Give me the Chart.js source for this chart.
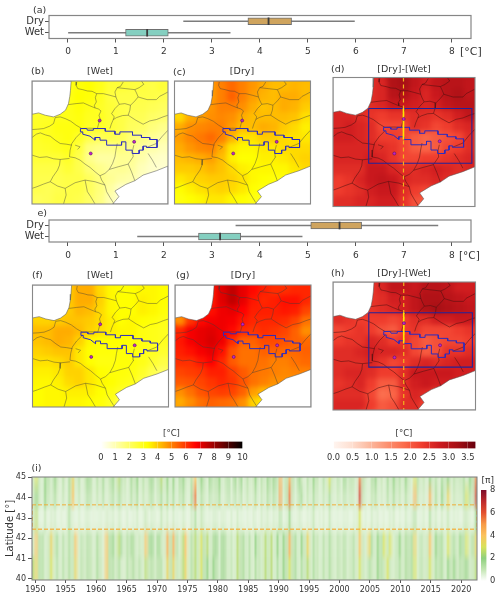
<!DOCTYPE html>
<html><head><meta charset="utf-8">
<script src="https://cdn.jsdelivr.net/npm/chart.js@4"></script>
<style>
html,body{margin:0;padding:0;background:#fff}
#page{position:relative;width:500px;height:599px;overflow:hidden;font-family:"DejaVu Sans",sans-serif;color:#333}
canvas{position:absolute;left:0;top:0}
.t{position:absolute;line-height:1;white-space:nowrap}
</style></head><body><div id="page"></div>
<script>
// ---------- box plots ----------
const boxCategories=['Dry','Wet'];
const boxTicks=[0,1,2,3,4,5,6,7,8];
const aWhisker=[[2.41,5.97],[0.01,3.38]];
const aBox=[[3.75,4.66],[1.2,2.09]];
const aMedian=[4.18,1.65];
const eWhisker=[[3.5,7.71],[1.45,4.88]];
const eBox=[[5.06,6.12],[2.72,3.6]];
const eMedian=[5.66,3.17];
const boxColors=['#cfa45e','#84cfc0'];

// ---------- map grids (temperature, degC; rows north to south) ----------
const gridB=[
[2.6,2.6,2.8,3,3.2,3.3,3,2.6,2.6,2.5,2.5,2.4,2.6],
[2.6,2.6,2.8,3,3.3,3.2,2.9,2.5,2.4,2.4,2.4,2.4,2.3],
[2.6,2.6,2.8,3,3.2,3,2.8,2.6,2.4,2.3,2.3,2.2,2.1],
[2.8,2.8,3,3,3.1,2.9,2.9,2.6,2.4,2.2,2.2,2,1.9],
[2.8,2.9,3.1,3.1,3.1,2.8,2.8,2.6,2.4,2.1,2,1.7,1.5],
[2.8,2.9,3,3.1,2.8,2.3,2.2,2.3,2.2,1.8,1.6,1.4,1.2],
[2.7,2.8,2.9,3,2.5,1.7,1.5,1.5,1.7,1.5,1.3,1.1,0.9],
[2.6,2.6,2.6,2.8,2.3,1.5,1.2,1.2,1.4,1.4,1.1,0.8,0.7],
[2.4,2.4,2.4,2.6,2.3,1.8,1.5,1.3,1.4,1.3,0.9,0.7,0.6],
[2.3,2.3,2.3,2.4,2.4,2.1,1.7,1.4,1.2,1.1,0.8,0.6,0.6],
[2.3,2.2,2.3,2.4,2.4,2.1,1.7,1.2,0.7,0.6,0.6,0.6,0.6],
[2.1,2.2,2.4,2.4,2.3,2,1.6,1,0.5,0.3,0.4,0.5,0.5]];
const gridC=[
[4.4,4.4,4.5,4.6,5,5.3,5,4.7,4.4,4.2,4.2,4.3,4.2],
[4.4,4.4,4.5,4.6,5,5.4,5,4.6,4.3,4.2,4.4,4.4,4.2],
[4.2,4.3,4.5,4.7,5,5,4.8,4.4,4.1,4.2,4.4,4.3,4],
[3.8,4.4,4.6,4.8,4.9,4.8,4.4,4.2,4.2,4.2,4.2,4.1,3.7],
[4.4,4.8,4.9,5,5,4.6,4.2,4.2,4.4,4.3,4,3.8,3.5],
[4.6,4.9,5.1,5.3,5,4.3,3.7,3.7,4,4,3.8,3.7,3.6],
[4.4,4.7,4.9,5,4.4,3.6,3.4,3.4,3.6,3.6,3.8,3.8,3.8],
[4.2,4.3,4.4,4.6,4.2,3.5,3.3,3.3,3.5,3.5,3.6,3.8,3.9],
[4,4,4.1,4.3,4.1,3.8,3.5,3.4,3.4,3.4,3.4,3.6,3.8],
[3.6,3.8,3.9,4,4,3.9,3.7,3.4,3.3,3.2,3.2,3.4,3.4],
[3.3,3.5,3.7,3.8,3.9,3.8,3.6,3.3,3.1,3,3,3,3],
[3.1,3.3,3.4,3.6,3.6,3.4,3.3,3.1,2.9,2.7,2.7,2.7,2.7]];
const gridD=[
[2.5,2.5,2.5,2.5,2.6,3.1,3.2,2.9,2.7,2.9,3,3,2.9],
[2.5,2.5,2.5,2.5,2.6,3,3.1,2.8,2.6,2.8,3,3.1,2.9],
[2.5,2.5,2.5,2.5,2.6,2.8,2.8,2.7,2.6,2.7,2.9,3,3],
[2.6,2.6,2.5,2.4,2.3,2.4,2.4,2.5,2.5,2.4,2.5,2.7,2.9],
[2.6,2.7,2.6,2.5,2.2,2.2,2.2,2.5,2.4,2.2,2.3,2.5,2.6],
[2.7,2.7,2.6,2.5,2.3,2.3,2.2,2,1.9,2,2.1,2.2,2.5],
[2.6,2.6,2.6,2.6,2.5,2.4,2.2,2,1.9,2,2.2,2.3,2.5],
[2.6,2.6,2.6,2.7,2.6,2.4,2.2,2.2,2.3,2.3,2.4,2.5,2.6],
[2.5,2.5,2.5,2.8,2.8,2.6,2.5,2.5,2.6,2.7,2.6,2.5,2.6],
[2.3,2.4,2.6,2.8,2.9,2.8,2.6,2.5,2.5,2.6,2.5,2.4,2.4],
[2.3,2.4,2.5,2.7,2.8,2.8,2.5,2.3,2.2,2.3,2.5,2.5,2.5],
[2.5,2.5,2.6,2.6,2.7,2.7,2.4,2.1,2,2.3,2.5,2.5,2.5]];
const gridF=[
[3.6,3.6,3.8,4,4.4,4.4,3.8,3.4,3.3,3.3,3.4,3.4,3.3],
[3.6,3.6,3.8,4,4.4,4.4,3.9,3.4,3.3,3.3,3.5,3.4,3.3],
[3.7,3.7,3.9,4,4.3,4.2,3.8,3.4,3.3,3.3,3.5,3.4,3.2],
[3.9,3.9,4,4.1,4.1,4,3.8,3.5,3.3,3.4,3.3,3.2,3],
[4.2,4.2,4.4,4.4,4.2,3.9,3.7,3.5,3.4,3.4,3.1,3,2.9],
[4.1,4.2,4.4,4.3,3.9,3.4,3.3,3.3,3.3,3.2,3.1,3,2.9],
[3.9,4,4.1,4.1,3.6,3.3,3.2,3.2,3.2,3.2,3,2.9,2.7],
[3.7,3.7,3.8,4,3.6,3.3,3.1,3.1,3.2,3.2,3,2.7,2.4],
[3.5,3.5,3.6,3.9,3.9,3.6,3.3,3.2,3.2,3.1,2.8,2.3,2],
[3.4,3.4,3.5,3.8,3.9,3.6,3.4,3.3,3.1,3,2.5,2,1.5],
[3.3,3.4,3.4,3.5,3.5,3.5,3.3,3.1,2.8,2.4,1.8,1.4,1.2],
[3.3,3.4,3.4,3.4,3.4,3.3,3.2,2.9,2.2,1.3,1.2,1.2,1.2]];
const gridG=[
[6,6,6.2,6.4,7.1,7.5,7,6.6,6.3,6.1,6.1,6.2,6.2],
[6,6,6.2,6.4,7.1,7.5,7,6.4,6.2,6.3,6.5,6.5,6.2],
[5,5.5,6.2,6.5,6.9,7,6.7,6.3,6.3,6.3,6.4,6.3,5.8],
[4.8,6,6.6,6.8,6.9,6.8,6.4,6.2,6.2,6.2,6.1,5.8,5.2],
[6.2,6.8,7,7.1,6.9,6.6,6.1,6,6.1,6,5.8,5.4,4.8],
[6.4,6.8,7,7.2,6.9,6.1,5.4,5.4,5.7,5.7,5.6,5.4,5.3],
[6.3,6.5,6.8,7,6.5,5.6,5.2,5.2,5.4,5.4,5.3,5.3,5.4],
[6.1,6.1,6.4,6.7,6.2,5.5,5.2,5.2,5.2,5,5,5.2,5.3],
[5.8,5.9,6,6.3,6.3,5.9,5.5,5.2,5.1,5,4.9,5,5],
[5.5,5.6,5.8,6,6.2,6,5.6,5.2,5,4.8,4.8,4.6,4.5],
[4.8,5.2,5.6,5.8,5.9,5.8,5.4,4.6,4.2,4.2,4.4,4.4,4.4],
[4.4,4.8,5.2,5.4,5.3,5.2,4.8,3.9,3.5,3.6,4,4,4]];
const gridH=[
[2.4,2.4,2.4,2.4,2.6,2.9,2.9,2.8,3,3,2.9,2.7,2.7],
[2.4,2.4,2.4,2.4,2.5,2.7,2.7,2.9,3.1,3.1,3,2.9,2.8],
[2.4,2.4,2.4,2.4,2.5,2.6,2.7,2.9,3.1,3.2,3.1,3,2.9],
[2.5,2.4,2.3,2.3,2.3,2.2,2.3,2.5,2.5,2.7,2.7,2.8,2.8],
[2.2,2.3,2.4,2.3,2.1,2,2.3,2.4,2.2,2.2,2.2,2.3,2.4],
[2.3,2.4,2.4,2.6,2.5,2.3,2.4,2.2,2,2.1,2.2,2.2,2.3],
[2.5,2.5,2.6,2.7,2.6,2.6,2.5,2.2,2,2.1,2.4,2.4,2.5],
[2.5,2.5,2.5,2.6,2.4,2.2,2.3,2.5,2.6,2.5,2.6,2.7,2.7],
[2.5,2.6,2.6,2.5,2.3,2.3,2.5,2.8,2.8,2.8,2.8,2.7,2.7],
[2.4,2.5,2.6,2.3,2,2,2.5,2.7,2.8,2.7,2.7,2.6,2.6],
[2.5,2.5,2.5,2.2,1.8,1.9,2.4,2.6,2.5,2.1,2.2,2.3,2.3],
[2.6,2.6,2.6,2.3,2,2.1,2.5,2.5,2.2,1.8,2,2.2,2.2]];

// ---------- map geography, in map units ----------
const mapXRange=[95,505], mapYRange=[62,432];
const seaBiscay=[[95,62],[213,62],[211,90],[209,108],[205,130],[196,150],[180,162],[160,170],[135,165],[115,158],[95,162],[95,62]];
const seaMed=[[505,318],[470,332],[430,345],[405,362],[378,373],[345,393],[357,410],[340,430],[340,432],[505,432],[505,318]];
const regionBorders=[
[[230,65],[228,75],[233,85],[248,88],[262,92],[276,93],[290,100],[286,112],[289,125],[283,135],[285,143]],
[[290,100],[310,100],[330,105],[348,110],[345,95],[352,82],[362,78],[370,65]],
[[352,82],[378,85],[405,88],[418,82],[432,72],[425,62]],
[[405,88],[410,98],[415,110],[405,122],[392,135],[375,130],[358,132],[352,120],[348,110]],
[[415,110],[442,118],[470,118],[480,108],[490,103],[505,95]],
[[205,133],[228,130],[250,128],[268,136],[285,143],[295,146],[303,152]],
[[358,132],[345,145],[335,160],[343,170],[340,178],[334,192],[330,205]],
[[392,135],[390,150],[385,165],[368,166],[350,172],[340,178]],
[[385,165],[408,180],[430,192],[450,182],[470,178],[490,170],[505,165]],
[[165,172],[180,170],[195,175],[212,183],[228,195],[245,205],[270,204],[292,205],[296,190],[300,175],[297,165],[303,152]],
[[95,208],[112,207],[130,205],[148,198],[160,190],[165,172]],
[[95,232],[108,222],[120,218],[135,224],[150,228],[165,240],[180,250],[198,252],[215,255]],
[[245,215],[228,232],[215,250],[210,270],[208,290],[225,293],[240,300],[255,312],[270,322],[285,335],[300,347],[315,340],[328,328],[338,310],[345,290],[348,270],[352,250]],
[[208,295],[180,298],[178,315],[172,330],[158,350],[150,365],[130,372],[110,380],[95,385]],
[[95,285],[118,292],[140,290],[160,296],[180,298]],
[[150,365],[172,378],[195,385],[225,368],[255,360],[285,365],[315,375],[305,360],[300,347]],
[[315,375],[320,395],[330,412],[340,428]],
[[195,385],[198,405],[190,432]],
[[255,360],[262,395],[272,410],[285,432]],
[[328,328],[355,320],[385,312],[395,335],[405,362]],
[[385,312],[400,290],[398,272],[402,255]],
[[445,280],[458,300],[470,322]],
[[440,262],[470,250],[488,228],[505,210]],
[[225,255],[240,260],[232,268]]
];
const studyOutline=[[241,205],[260,205],[262,210],[280,210],[280,205],[316,205],[316,213],[345,213],[345,222],[360,222],[360,215],[398,215],[398,225],[425,225],[425,232],[450,232],[450,238],[472,238],[472,262],[440,262],[440,258],[430,258],[430,270],[418,270],[418,280],[397,280],[397,270],[378,270],[378,245],[365,245],[365,255],[320,255],[320,240],[300,240],[300,232],[285,232],[285,240],[270,228],[248,222],[248,215],[241,215],[241,205]];
const stations=[[299,181],[403,245],[272,280]];
const boxRect=[[198,151],[496,151],[496,308],[198,308],[198,151]];
const transectDashed=[[298.5,62],[298.5,432]];
const transectSolid=[[298.5,151],[298.5,240]];

// ---------- colour maps ----------
const hotStops=[[0,'#ffffff'],[3.3,'#ffff00'],[6.7,'#ff0000'],[10,'#000000']];
const redStops=[[0,'#fff5f0'],[.46,'#fee0d2'],[.92,'#fcbba1'],[1.39,'#fc9272'],[1.85,'#fb6a4a'],[2.31,'#ef3b2c'],[2.78,'#cb181d'],[3.24,'#a50f15'],[3.7,'#67000d']];
const piStops=[[0,'#ffffff'],[1,'#c4e6b4'],[2,'#8fd07e'],[3,'#d8e25a'],[4,'#fbc25c'],[5,'#f79a47'],[6,'#e3502f'],[7,'#bd2a2c'],[8,'#7d0e2b']];
const hotTicks=[0,1,2,3,4,5,6,7,8,9,10];
const redTicks=[0,.5,1,1.5,2,2.5,3,3.5];
const piTicks=[0,2,4,6,8];

// ---------- time-latitude section ----------
const yearTicks=[1950,1955,1960,1965,1970,1975,1980,1985,1990,1995,2000,2005,2010,2015,2020];
const latTicks=[40,41,42,43,44,45];
const latEdges=[45,44.5,43.65,42.45,41.2,39.95];
const bandBase=['#e8f4e1','#e9f5e3','#f2f9ef','#e9f5e2','#e6f3de'];
const latLimits=[43.65,42.45];
const band1=[.8,3,1,.6,2,1.3,.7,2,1,.6, 1.3,.6,1.6,3.5,.8,1.3,.6,1,2,1.3, .6,1.3,.8,1.6,.7,1,2,.8,2.5,1.3, 1,.6,1.6,1,2,.7,1.3,.8,1.3,2, .7,1.3,2.5,.8,2,.6,2,.6,1.3,2, 1,.7,1.3,4,.8,2,1.3,.6,2,1, 1.3,2,.7,1,1.6,.6,2,.8,2,.7, 1.3,.8,1,2,.7,1.3,.8,2,1,2, 1,4.5,.8,1.3,4.5,1.3,.7,2,1,.6, 1.3,.8,2,1,.6,1.3,.8,3,1,.7, 1.3,.6,2,.8,1.3,1,.7,5.5,1.3,.8, .6,1.3,2,.8,1,.6,1.6,.8,2,1, 1.3,.7,2,1,.6,3,1.3,.8,1,.6, 2,.8,1.3,.6,1.6,1,2,.7,1.3,.8, 1,1.5,.7,2,1.3,5.5];
const band2=[.8,2,1,.6,2,1,.7,1.5,.8,.6, 1,.6,1.5,4,.7,1,.6,.8,1.5,1, .6,1,.7,1.3,.6,.8,1.5,.7,1.5,1, .8,.6,1.3,.8,1.5,.6,1,.7,1,1.5, .6,1,1.5,.7,1.5,.7,1.5,.6,1,1.5, .8,.6,1.5,5.5,.7,1.3,1,.6,1.3,.8, 1,1.5,.6,.8,1.3,.6,1.3,.7,1.3,.6, 1,.7,.8,1.3,.6,1,.7,1.5,.8,1.5, .8,5,.7,1.3,5.5,1,.6,1.3,1.5,.6, 1,.7,1.5,.8,.6,1,.7,1.5,.8,.6, 1,.6,1.3,.7,1,.8,.6,6.5,1,.7, .6,1,1.3,.7,.8,.6,1.3,.7,1.5,.8, 1,.6,1.3,.8,.6,4.5,1,.7,.8,.6, 4.5,.7,1.5,.6,2,.8,3.5,.6,1,.7, .8,1.3,3,1.3,1,6.5];
const band3=[.8,2.5,.6,.5,1,.5,.7,.8,.5,.6, .5,.7,1.4,.6,.5,.7,.5,.6,.8,.5, .6,.5,.7,.5,.8,.6,.8,.5,.8,.6, .5,.7,.5,.6,.8,.5,.6,1,.5,.8, .6,.5,1,.6,.8,.5,.8,.6,.5,.8, .6,.5,.8,1.4,.6,1,.8,.5,.6,.7, .8,.5,.8,.6,.5,.7,.5,.8,.6,.5, .6,.5,.7,.6,.5,.8,.6,.8,.5,.8, .6,1.4,.5,.7,1.8,.6,.5,.8,.6,.5, .6,.7,1,.5,.6,.7,.5,1,.6,.5, .6,.5,.7,.6,.5,.6,.7,3,.5,.6, .5,.8,.6,.7,.5,.6,.5,.7,.8,.5, .6,.5,.8,.6,.7,1.4,.5,.6,.7,.5, 1.4,.6,.8,.5,.8,.6,1,.5,.7,.6, .5,.8,1,.6,.5,1.8];
const band4=[.8,4,1.3,1.5,.7,1,3.5,1,1.5,.7, 1.3,.8,1.5,1,4,.7,1.3,.8,1.5,1, .7,1.5,1,.6,4,1.3,2,.8,2.5,1.5, .8,1.3,1.5,1.5,.7,1,.8,4,1.5,2, .7,2,1,.8,4.5,1.3,4.5,1.3,.7,2.5, 4,.8,1.3,2.5,1,3,1.3,2.5,.8,1.5, 2,.7,2,1.3,.8,1,.7,2.5,1.3,1.5, .8,1.3,.7,2,1,.8,2.5,1,2.5,.7, 2,.8,2,1.3,4.5,1.3,1.5,.7,2,1, 3.5,.8,1.5,1,.7,1.3,.8,1.5,1,.7, 1.3,.8,1.5,.7,1,1.3,.8,4,1,.7, 3.5,1.5,.8,2,1.3,3,1,3,.7,1, 2,.8,1.5,1.3,1.5,3.5,.7,1.3,.8,1, 4,.8,2,1.3,1.5,.7,3,1,1.5,.8, 2,1.3,3,.8,1.5,3.5];
const band5=[2.5,3.5,1.3,1.5,.7,1,3,.8,1.3,.7, 1.3,.8,1.5,1,3.5,.7,1.3,.8,1.5,1, .7,1.5,1,.6,4,1.3,1.5,.8,1.5,.8, .7,1.3,1,1.5,.8,1.3,.7,2.5,1,1.5, .8,1.5,1.3,.7,3.5,1.3,3.5,1,.8,2.5, 3.5,.8,1.3,2.5,1,3,1.3,2,.8,2, 1.5,.7,2,1.3,.8,1,.7,2.5,1.3,1.5, .8,1.3,.7,1.5,1,.8,2.5,1,2.5,.7, 1.5,.8,2,1.3,3,1.3,1.5,.7,1.5,1, 2.5,.8,1.5,1,.7,1.3,.8,1.5,1,.7, 1.3,.8,1.5,.7,1,1.3,.8,3,1,.7, 1.5,1,.8,2,1.3,1,3,1,.7,1, 1.5,.8,1.5,1.3,1.5,3,.7,1.3,.8,1, 3,.8,1.5,1.3,1.5,.7,2,1,2,.8, 1.5,1.3,2,.8,1,2.5];
const latBands=[band1,band2,band3,band4,band5];

// ---------- helpers ----------
const W=500,H=599,FONT='"DejaVu Sans",sans-serif',TEXT='#333';
const page=document.getElementById('page');
function hex(c){return [1,3,5].map(i=>parseInt(c.slice(i,i+2),16));}
function colorAt(stops,v){
  if(v<=stops[0][0])return stops[0][1];
  for(let i=1;i<stops.length;i++){
    if(v<=stops[i][0]){
      const [a,ca]=stops[i-1],[b,cb]=stops[i],t=(v-a)/(b-a),A=hex(ca),B=hex(cb);
      return 'rgb('+A.map((x,k)=>Math.round(x+(B[k]-x)*t)).join(',')+')';
    }
  }
  return stops[stops.length-1][1];
}
function label(text,x,y,size,align,extra){
  const d=document.createElement('div');d.className='t';d.textContent=text;
  d.style.fontSize=size+'px';d.style.top=y+'px';
  if(align==='center'){d.style.left=x+'px';d.style.transform='translate(-50%,-50%)';}
  else if(align==='right'){d.style.right=(W-x)+'px';d.style.transform='translateY(-50%)';}
  else{d.style.left=x+'px';d.style.transform='translateY(-50%)';}
  if(extra)Object.assign(d.style,extra);
  page.appendChild(d);
}
const framePlugin={id:'frame',afterDraw(chart,a,o){
  if(!o||!o.color)return;
  const {left,top,right,bottom}=chart.chartArea,c=chart.ctx;
  c.save();c.strokeStyle=o.color;c.lineWidth=o.width;c.strokeRect(left,top,right-left,bottom-top);c.restore();
}};
const smoothPlugin={id:'smooth',afterDatasetDraw(chart,args){
  const ds=chart.data.datasets[args.index];
  if(!ds.smoothAfter)return;
  const a=chart.chartArea,src=chart.canvas,x=a.left,y=a.top,w=a.right-a.left,h=a.bottom-a.top,m=10;
  const mk=(cw,ch)=>{const k=document.createElement('canvas');k.width=cw;k.height=ch;return k;};
  const ow=Math.ceil(w+2*m),oh=Math.ceil(h+2*m);
  const off=mk(ow,oh),o=off.getContext('2d');
  o.drawImage(src,x,y,w,h,0,0,ow,oh);
  o.drawImage(src,x,y,w,h,m,m,w,h);
  let out=off;
  if(ds.smoothAfter.vScale>1){
    const sm=mk(ow,Math.round(oh/ds.smoothAfter.vScale));
    const s=sm.getContext('2d');s.imageSmoothingQuality='high';s.drawImage(off,0,0,sm.width,sm.height);
    out=sm;
  }
  const c=chart.ctx;c.save();c.beginPath();c.rect(x,y,w,h);c.clip();
  c.imageSmoothingEnabled=true;c.imageSmoothingQuality='high';
  c.filter='blur('+ds.smoothAfter.blur+'px)';
  c.drawImage(out,x-m,y-m,ow,oh);
  c.restore();
}};
function addChart(box,axW,axH,cfg){
  const cv=document.createElement('canvas');cv.width=W;cv.height=H;cv.style.width=W+'px';cv.style.height=H+'px';page.appendChild(cv);
  cfg.options=Object.assign({responsive:false,animation:false,devicePixelRatio:1,events:[],
    layout:{padding:{left:box[0]-axW,top:box[1],right:W-box[2]-(cfg.rightAxis||0),bottom:H-box[3]-axH}}},cfg.options);
  cfg.options.plugins=Object.assign({legend:{display:false},tooltip:{enabled:false},title:{display:false}},cfg.options.plugins);
  cfg.plugins=[framePlugin,smoothPlugin];
  return new Chart(cv,cfg);
}
function fixedAxis(size,horizontal,tickVals){
  return {
    afterFit(s){s.paddingLeft=s.paddingRight=s.paddingTop=s.paddingBottom=0;if(horizontal)s.height=size;else s.width=size;},
    afterBuildTicks(s){if(tickVals)s.ticks=tickVals.map(v=>({value:v}));}
  };
}
function xyObjs(list){return list.map(p=>({x:p[0],y:p[1]}));}
function lineDS(pts,color,width,order,extra){
  return Object.assign({type:'scatter',showLine:true,data:xyObjs(pts),borderColor:color,borderWidth:width,pointRadius:0,tension:0,fill:false,order},extra||{});
}
const tickFont=s=>({family:FONT,size:s});

// ---------- box panel ----------
function boxPanel(box,whisk,q,med){
  addChart(box,40,24,{type:'bar',data:{labels:boxCategories,datasets:[
    {data:whisk,backgroundColor:'#7c7c7c',barThickness:1,grouped:false,order:3},
    {data:q,backgroundColor:boxColors,borderColor:'#6f6f6f',borderWidth:1,borderSkipped:false,barThickness:7,grouped:false,order:2},
    {data:med.map(m=>[m-0.012,m+0.012]),backgroundColor:'#3c3c3c',barThickness:7,grouped:false,order:1}
  ]},options:{indexAxis:'y',plugins:{frame:{color:'#868686',width:1.2}},scales:{
    x:Object.assign({type:'linear',offset:false,min:-0.396,max:8.4,position:'bottom',border:{display:false},
      grid:{display:true,offset:false,drawOnChartArea:false,drawTicks:true,tickLength:4,tickColor:'#555'},
      ticks:{font:tickFont(9),color:TEXT,padding:4,autoSkip:false,maxRotation:0,callback:v=>String(v)}},fixedAxis(24,true,boxTicks)),
    y:Object.assign({type:'category',position:'left',border:{display:false},
      grid:{display:true,drawOnChartArea:false,drawTicks:true,tickLength:4,tickColor:'#555',offset:false},
      ticks:{font:tickFont(10),color:TEXT,padding:1,autoSkip:false}},fixedAxis(40,false))
  }}});
}
boxPanel([49,15.5,471,38.5],aWhisker,aBox,aMedian);
boxPanel([49,220,471,242],eWhisker,eBox,eMedian);

// ---------- map panels ----------
const mapCols=13,mapRows=12;
function heatRows(grid,stops){
  const cw=(mapXRange[1]-mapXRange[0])/mapCols,ch=(mapYRange[1]-mapYRange[0])/mapRows;
  return grid.map((row,i)=>({
    data:row.map((v,j)=>({x:mapXRange[0]+(j+.5)*cw,y:[mapYRange[0]+i*ch-.5,mapYRange[0]+(i+1)*ch+.5]})),
    backgroundColor:row.map(v=>colorAt(stops,v)),
    barPercentage:1.04,categoryPercentage:1,grouped:false,borderWidth:0,order:100,
    smoothAfter:i===0?{blur:2.6,vScale:1}:undefined
  }));
}
function mapPanel(box,grid,stops,withBox){
  const border=withBox?'rgba(70,15,15,.72)':'rgba(60,60,60,.62)';
  const ds=heatRows(grid,stops);
  ds.push(lineDS(seaBiscay,'rgba(90,90,90,.8)',.7,50,{fill:'shape',backgroundColor:'#ffffff'}));
  ds.push(lineDS(seaMed,'rgba(90,90,90,.8)',.7,50,{fill:'shape',backgroundColor:'#ffffff'}));
  regionBorders.forEach(b=>ds.push(lineDS(b,border,.7,40)));
  ds.push(lineDS(studyOutline,'#2c2cc0',1,20));
  if(withBox){
    ds.push(lineDS(boxRect,'#23239a',1.1,19));
    ds.push(lineDS(transectDashed,'#f2b01e',1.2,10,{borderDash:[4,3]}));
    ds.push(lineDS(transectSolid,'#ffe600',1.6,9));
  }
  ds.push({type:'scatter',data:xyObjs(stations),pointRadius:1.5,pointBackgroundColor:'#c81fc8',pointBorderColor:'#4a1a6e',pointBorderWidth:.6,order:1});
  addChart(box,0,0,{type:'bar',data:{datasets:ds},options:{plugins:{frame:{color:'#888888',width:1.1}},scales:{
    x:{type:'linear',offset:false,display:false,min:mapXRange[0],max:mapXRange[1],grid:{offset:false}},
    y:{type:'linear',display:false,reverse:true,min:mapYRange[0],max:mapYRange[1]}
  }}});
}
mapPanel([32,81,168,204],gridB,hotStops,false);
mapPanel([174.5,81,310.5,204],gridC,hotStops,false);
mapPanel([333,77.5,475,206.5],gridD,redStops,true);
mapPanel([32.5,285,168.5,407],gridF,hotStops,false);
mapPanel([175,285,311,407],gridG,hotStops,false);
mapPanel([333,282,475.5,410],gridH,redStops,true);

// ---------- colour bars ----------
function gradientFill(stops,axis){
  return ctx=>{
    const ch=ctx.chart,s=ch.scales[axis];
    if(!ch.chartArea||!s)return '#fff';
    const a=s.min,b=s.max,p0=s.getPixelForValue(a),p1=s.getPixelForValue(b);
    const g=axis==='x'?ch.ctx.createLinearGradient(p0,0,p1,0):ch.ctx.createLinearGradient(0,p0,0,p1);
    stops.forEach(st=>{const t=(st[0]-a)/(b-a);if(t>=0&&t<=1)g.addColorStop(t,st[1]);});
    return g;
  };
}
function hBar(box,stops,max,ticks,fmt){
  addChart(box,0,16,{type:'bar',data:{labels:[''],datasets:[{data:[[0,max]],backgroundColor:gradientFill(stops,'x'),barPercentage:1,categoryPercentage:1,borderWidth:0}]},
   options:{indexAxis:'y',scales:{
    x:Object.assign({type:'linear',offset:false,min:0,max,border:{display:false},
      grid:{display:true,offset:false,z:1,color:'rgba(255,255,255,.3)',lineWidth:.8,drawTicks:false},
      ticks:{font:tickFont(8.3),color:TEXT,padding:4.5,autoSkip:false,maxRotation:0,callback:fmt}},fixedAxis(16,true,ticks)),
    y:{type:'category',display:false}
  }}});
}
hBar([101,441.5,242.5,448.5],hotStops,10,hotTicks,v=>String(v));
hBar([333.5,441.5,475.5,448.5],redStops,3.7,redTicks,v=>v.toFixed(1));

addChart([481,490,486.5,581],0,0,{rightAxis:13,type:'bar',data:{labels:[''],datasets:[{data:[[0,8]],backgroundColor:gradientFill(piStops,'y'),barPercentage:1,categoryPercentage:1,borderWidth:0}]},
  options:{scales:{
    x:{type:'category',display:false},
    y:Object.assign({type:'linear',position:'right',min:0,max:8,border:{display:false},
      grid:{display:false,drawTicks:false},
      ticks:{font:tickFont(8.3),color:TEXT,padding:3.5,autoSkip:false,callback:v=>String(v)}},fixedAxis(13,false,piTicks))
  }}});

// ---------- time-latitude panel ----------
const startYear=1949.45,colYears=73.15/146;
const x0Year=startYear,x1Year=startYear+73.15;
const sectionDS=latBands.map((vals,b)=>({
  data:vals.map((v,i)=>({x:startYear+(i+.5)*colYears,y:[latEdges[b+1]-.02,latEdges[b]+.02]})),
  backgroundColor:vals.map(v=>colorAt(piStops,v)),
  barPercentage:.66,categoryPercentage:1,grouped:false,borderWidth:0,order:100,
  smoothAfter:b===0?{blur:.25,vScale:8}:undefined
}));
bandBase.forEach((col,b)=>sectionDS.push(lineDS([[x0Year,latEdges[b]+.02],[x1Year,latEdges[b]+.02],[x1Year,latEdges[b+1]-.02],[x0Year,latEdges[b+1]-.02],[x0Year,latEdges[b]+.02]],col,0,120,{fill:'shape',backgroundColor:col})));
latLimits.forEach((lat,i)=>sectionDS.push(lineDS([[x0Year,lat],[x1Year,lat]],i?'rgba(243,180,70,.9)':'rgba(240,170,50,.95)',i?1.6:1,10,{borderDash:[4,2]})));
sectionDS.push(lineDS([[x0Year,latLimits[0]],[x0Year,latLimits[1]]],'rgba(243,170,50,.95)',1.6,10,{borderDash:[4,2]}));
sectionDS.push(lineDS([[x1Year,latLimits[0]],[x1Year,latLimits[1]]],'rgba(243,170,50,.95)',1.2,10,{borderDash:[4,2]}));
addChart([32,477,477,580],28,15,{type:'bar',data:{datasets:sectionDS},options:{plugins:{frame:{color:'#7a7a7a',width:1}},scales:{
  x:Object.assign({type:'linear',offset:false,min:x0Year,max:x1Year,border:{display:false},
    grid:{display:true,offset:false,drawOnChartArea:false,drawTicks:true,tickLength:3,tickColor:'#555'},
    ticks:{font:tickFont(8),color:TEXT,padding:2,autoSkip:false,maxRotation:0,callback:v=>String(v)}},fixedAxis(15,true,yearTicks)),
  y:Object.assign({type:'linear',min:39.95,max:45.02,border:{display:false},
    title:{display:true,text:'Latitude [°]',font:tickFont(10),color:TEXT,padding:{top:0,bottom:0}},
    grid:{display:true,drawOnChartArea:false,drawTicks:true,tickLength:4,tickColor:'#555'},
    ticks:{font:tickFont(8),color:TEXT,padding:2,autoSkip:false,callback:v=>String(v)}},fixedAxis(28,false,latTicks))
}}});

// ---------- text ----------
label('(a)',33,10,9.5);
label('[°C]',460,51,11);
label('(b)',31,71,9.5);label('[Wet]',100,71,9.5,'center');
label('(c)',173,72,9.5);label('[Dry]',242,71,9.5,'center');
label('(d)',331,69,9.5);label('[Dry]-[Wet]',404,69,9.5,'center');
label('e)',47,213,9.5,'right');
label('[°C]',459,255,10.5);
label('(f)',32,275,9.5);label('[Wet]',100,275,9.5,'center');
label('(g)',176,275,9.5);label('[Dry]',243,275,9.5,'center');
label('(h)',331,273,9.5);label('[Dry]-[Wet]',404,273,9.5,'center');
label('[°C]',171.5,432.5,8.5,'center');
label('[°C]',404,432.5,8.5,'center');
label('(i)',31.5,468,9.5);
label('[π]',481.5,480,9);
</script></body></html>
